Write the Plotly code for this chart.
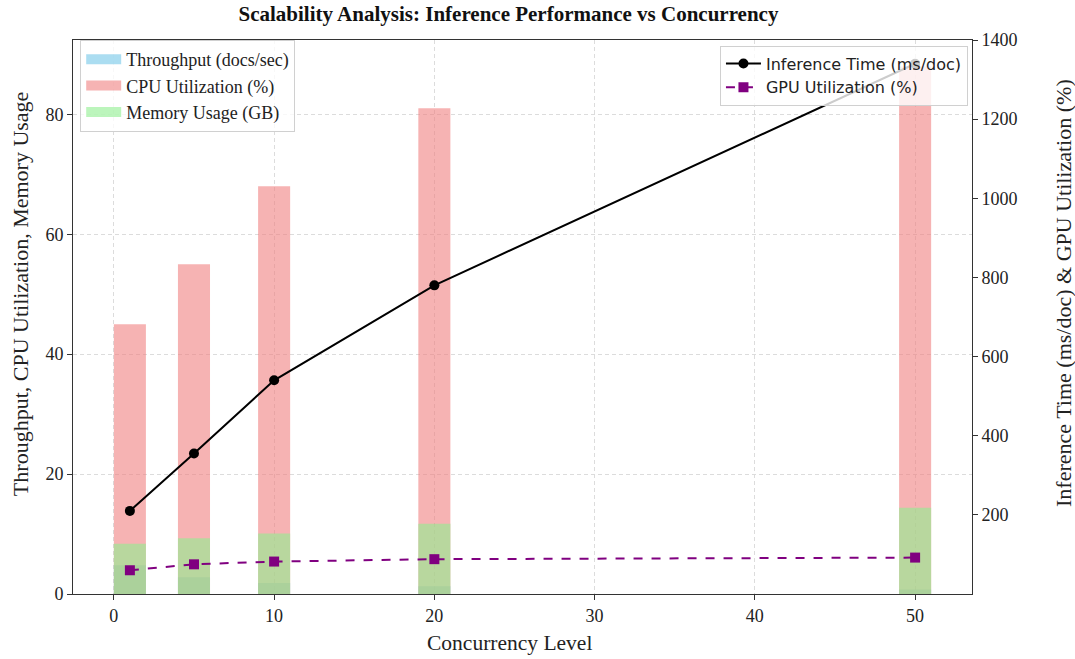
import plotly.graph_objects as go

concurrency = [1, 5, 10, 20, 50]
throughput = [4.8, 2.8, 1.85, 1.3, 0.75]
cpu_util = [45, 55, 68, 81, 88]
memory_gb = [8.4, 9.3, 10.1, 11.7, 14.4]
inference_ms = [210, 355, 540, 780, 1340]
gpu_util = [60, 75, 82, 88, 92]

x_ticks = [0, 10, 20, 30, 40, 50]
y_left_ticks = [0, 20, 40, 60, 80]
y_right_ticks = [200, 400, 600, 800, 1000, 1200, 1400]

SERIF = "Liberation Serif, Times New Roman, serif"
SANS = "DejaVu Sans, sans-serif"

bar_series = [
    ("Throughput (docs/sec)", throughput, "135,206,235", 0.7),
    ("CPU Utilization (%)", cpu_util, "240,128,128", 0.6),
    ("Memory Usage (GB)", memory_gb, "144,238,144", 0.6),
]

fig = go.Figure()
for name, vals, rgb, alpha in bar_series:
    fig.add_trace(go.Bar(x=concurrency, y=vals, width=2, name=name, showlegend=False,
                         marker=dict(color=f"rgba({rgb},{alpha})", line=dict(width=0))))
# legend patches (wide rectangles like matplotlib)
for name, vals, rgb, alpha in bar_series:
    fig.add_trace(go.Scatter(x=[None], y=[None], mode="lines", name=name, legend="legend",
                             line=dict(color=f"rgba({rgb},{alpha})", width=13)))

fig.add_trace(go.Scatter(x=concurrency, y=inference_ms, mode="lines+markers", name="Inference Time (ms/doc)",
                         line=dict(color="black", width=2), marker=dict(symbol="circle", size=10, color="black"),
                         yaxis="y2", legend="legend2"))
fig.add_trace(go.Scatter(x=concurrency, y=gpu_util, mode="lines+markers", name="GPU Utilization (%)",
                         line=dict(color="purple", width=2, dash="dash"), marker=dict(symbol="square", size=10, color="purple"),
                         yaxis="y2", legend="legend2"))

axis_common = dict(showline=True, linecolor="#333", linewidth=1, ticks="outside", ticklen=5,
                   tickcolor="#333", tickfont=dict(family=SERIF, size=18, color="#222"), automargin=False)
grid = dict(showgrid=True, gridcolor="#dcdcdc", griddash="4px,3px", gridwidth=1)

fig.update_layout(
    width=1075, height=659,
    margin=dict(l=73, r=103, t=40, b=65),
    plot_bgcolor="white", paper_bgcolor="white",
    barmode="overlay",
    title=dict(text="<b>Scalability Analysis: Inference Performance vs Concurrency</b>",
               x=0.473, xanchor="center", y=0.979, yanchor="middle",
               font=dict(family=SERIF, size=21, color="#111")),
    xaxis=dict(range=[-2.55, 53.55], tickvals=x_ticks, mirror=True, zeroline=False,
               **grid, **axis_common),
    yaxis=dict(range=[0, 92.4], tickvals=y_left_ticks, mirror=True, zeroline=False,
               **grid, **axis_common),
    yaxis2=dict(range=[0, 1400], tickvals=y_right_ticks, overlaying="y", side="right",
                showgrid=False, zeroline=False, **axis_common),
    legend=dict(x=0.008, y=1.0, xanchor="left", yanchor="top", bgcolor="rgba(255,255,255,0.8)",
                bordercolor="#d0d0d0", borderwidth=1, font=dict(family=SERIF, size=18, color="#222"),
                itemwidth=35, tracegroupgap=0),
    legend2=dict(x=0.9955, y=0.99, xanchor="right", yanchor="top", bgcolor="rgba(255,255,255,0.8)",
                 bordercolor="#d0d0d0", borderwidth=1, font=dict(family=SANS, size=16, color="#222"),
                 itemwidth=35),
    annotations=[
        dict(text="Concurrency Level", xref="paper", yref="paper",
             x=0.485, y=-0.0884, xanchor="center", yanchor="middle", showarrow=False,
             font=dict(family=SERIF, size=21.5, color="#222")),
        dict(text="Throughput, CPU Utilization, Memory Usage", xref="paper", yref="paper",
             x=-0.059, y=0.543, xanchor="center", yanchor="middle", textangle=-90, showarrow=False,
             font=dict(family=SERIF, size=22, color="#222")),
        dict(text="Inference Time (ms/doc) & GPU Utilization (%)", xref="paper", yref="paper",
             x=1.101, y=0.543, xanchor="center", yanchor="middle", textangle=-90, showarrow=False,
             font=dict(family=SERIF, size=22, color="#222")),
    ],
)

fig.write_html("out.html")
